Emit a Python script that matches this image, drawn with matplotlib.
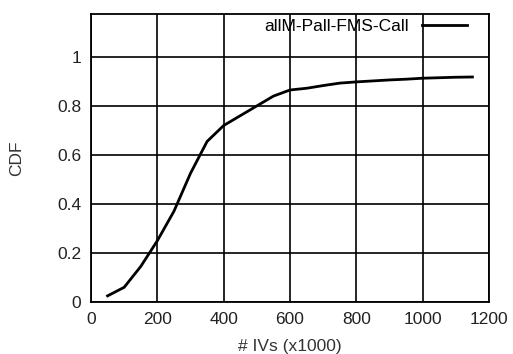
import matplotlib
matplotlib.use("Agg")
import matplotlib.pyplot as plt

ivs = [50, 100, 150, 200, 250, 300, 350, 400, 450, 500, 550, 600, 650, 700,
       750, 800, 850, 900, 950, 1000, 1050, 1100, 1150]
cdf = [0.025, 0.06, 0.145, 0.25, 0.37, 0.525, 0.655, 0.72, 0.76, 0.80, 0.84,
       0.865, 0.872, 0.883, 0.893, 0.898, 0.902, 0.906, 0.909, 0.913, 0.915,
       0.917, 0.918]
series_label = "allM-Pall-FMS-Call"
xticks = [0, 200, 400, 600, 800, 1000, 1200]
yticks = [0, 0.2, 0.4, 0.6, 0.8, 1]

plt.rcParams['font.family'] = ['Liberation Sans', 'DejaVu Sans']

fig = plt.figure(figsize=(5.13, 3.54), dpi=100)
ax = fig.add_axes([91/513, 1-302/354, (489-91)/513, (302-14)/354])

ax.plot(ivs, cdf, color='black', lw=2.0, label=series_label)
ax.set_xlim(0, 1200)
ax.set_ylim(0, 1.175)
ax.set_xticks(xticks)
ax.set_yticks(yticks)
ax.set_yticklabels(['0', '0.2', '0.4', '0.6', '0.8', '1'])
ax.grid(True, color='black', lw=1.2)
ax.tick_params(direction='in', length=0, labelsize=12.5, colors='#222222', pad=7)
for s in ax.spines.values():
    s.set_linewidth(1.3)
ax.set_xlabel('# IVs (x1000)', fontsize=12.5, color='#333333', labelpad=9)
ax.set_ylabel('CDF', fontsize=12.5, color='#333333', labelpad=24)

leg = ax.legend(loc='upper right', frameon=False, markerfirst=False,
                fontsize=12.5, handlelength=2.6, handletextpad=0.75,
                bbox_to_anchor=(0.975, 1.025), borderaxespad=0.3)

fig.savefig('out.png', dpi=100)
